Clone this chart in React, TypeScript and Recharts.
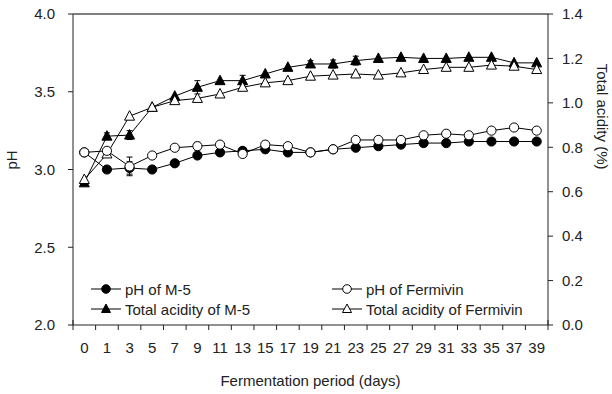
import React from 'react';
import { ComposedChart, Line, XAxis, YAxis, ErrorBar, ReferenceLine } from 'recharts';

const days = ['0', '1', '3', '5', '7', '9', '11', '13', '15', '17', '19', '21', '23', '25', '27', '29', '31', '33', '35', '37', '39'];

const phM5 = [3.11, 3.0, 3.01, 3.0, 3.04, 3.09, 3.11, 3.12, 3.13, 3.11, 3.11, 3.13, 3.14, 3.15, 3.16, 3.17, 3.17, 3.18, 3.18, 3.18, 3.18];
const phFermivin = [3.11, 3.12, 3.02, 3.09, 3.14, 3.15, 3.16, 3.1, 3.16, 3.15, 3.11, 3.13, 3.19, 3.19, 3.19, 3.22, 3.23, 3.22, 3.25, 3.27, 3.25];
const acidM5 = [0.64, 0.85, 0.855, 0.98, 1.03, 1.07, 1.1, 1.1, 1.13, 1.16, 1.175, 1.175, 1.19, 1.2, 1.205, 1.2, 1.2, 1.205, 1.205, 1.18, 1.18];
const acidFermivin = [0.655, 0.77, 0.94, 0.98, 1.01, 1.02, 1.04, 1.07, 1.09, 1.1, 1.12, 1.125, 1.13, 1.125, 1.135, 1.15, 1.16, 1.16, 1.17, 1.165, 1.15];

// error bar half-heights, 0 = none drawn
const phM5Err = [0, 0, 0.04, 0, 0, 0, 0, 0.015, 0, 0, 0, 0, 0, 0, 0, 0, 0, 0, 0, 0, 0];
const phFermivinErr = [0, 0, 0.06, 0, 0, 0.025, 0, 0, 0, 0, 0, 0, 0, 0, 0, 0, 0, 0, 0, 0, 0];
const acidM5Err = [0, 0.015, 0.02, 0, 0, 0.03, 0, 0.024, 0, 0, 0.015, 0.018, 0.02, 0, 0, 0, 0, 0, 0, 0, 0];
const acidFermivinErr = [0, 0, 0, 0, 0, 0, 0, 0, 0, 0, 0, 0, 0, 0, 0, 0, 0, 0, 0, 0, 0];

const phTicks = [2.0, 2.5, 3.0, 3.5, 4.0];
const acidTicks = [0, 0.2, 0.4, 0.6, 0.8, 1.0, 1.2, 1.4];

const data = days.map((d, i) => ({
  day: d,
  phM5: phM5[i],
  phFermivin: phFermivin[i],
  acidM5: acidM5[i],
  acidFermivin: acidFermivin[i],
  phM5Err: phM5Err[i],
  phFermivinErr: phFermivinErr[i],
  acidM5Err: acidM5Err[i],
  acidFermivinErr: acidFermivinErr[i],
}));

const FONT = '"Liberation Sans", Arial, sans-serif';
const FS = 15;
const INK = '#222';
const PLOT_LEFT = 73;
const PLOT_RIGHT = 548;
const BAND = (PLOT_RIGHT - PLOT_LEFT) / days.length;

const circleDot = (filled: boolean) => (props: any) => {
  const { cx, cy, index } = props;
  if (cx == null || cy == null) return <g key={index} />;
  return <circle key={index} cx={cx} cy={cy} r={4.6} fill={filled ? '#000' : '#fff'} stroke="#000" strokeWidth={1} />;
};

const triangleDot = (filled: boolean) => (props: any) => {
  const { cx, cy, index } = props;
  if (cx == null || cy == null) return <g key={index} />;
  const d = `M${cx},${cy - 5.5}L${cx + 5},${cy + 4}L${cx - 5},${cy + 4}Z`;
  return <path key={index} d={d} fill={filled ? '#000' : '#fff'} stroke="#000" strokeWidth={1} />;
};

const DayTick = (props: any) => {
  const { x, y, payload, index } = props;
  const last = index === days.length - 1;
  return (
    <g>
      <line x1={x - BAND / 2} x2={x - BAND / 2} y1={y} y2={y + 5} stroke={INK} />
      {last && <line x1={x + BAND / 2} x2={x + BAND / 2} y1={y - 5} y2={y + 5} stroke={INK} />}
      {index === 0 && <line x1={x - BAND / 2} x2={x - BAND / 2} y1={y - 5} y2={y} stroke={INK} />}
      <text x={x} y={y + 28} textAnchor="middle" fontSize={FS} fontFamily={FONT} fill={INK}>
        {payload.value}
      </text>
    </g>
  );
};

const legendItems = [
  { label: 'pH of M-5', x: 91, y: 289, mark: 'circle', filled: true },
  { label: 'pH of Fermivin', x: 332, y: 289, mark: 'circle', filled: false },
  { label: 'Total acidity of M-5', x: 91, y: 309, mark: 'tri', filled: true },
  { label: 'Total acidity of Fermivin', x: 332, y: 309, mark: 'tri', filled: false },
];

function LegendOverlay() {
  return (
    <svg width={612} height={394} style={{ position: 'absolute', left: 0, top: 0, pointerEvents: 'none' }}>
      {legendItems.map((it) => {
        const cx = it.x + 15;
        return (
          <g key={it.label}>
            <line x1={it.x} x2={it.x + 30} y1={it.y} y2={it.y} stroke="#000" />
            {it.mark === 'circle' ? (
              <circle cx={cx} cy={it.y} r={4.3} fill={it.filled ? '#000' : '#fff'} stroke="#000" />
            ) : (
              <path
                d={`M${cx},${it.y - 5}L${cx + 4.5},${it.y + 3.5}L${cx - 4.5},${it.y + 3.5}Z`}
                fill={it.filled ? '#000' : '#fff'}
                stroke="#000"
              />
            )}
            <text x={it.x + 34} y={it.y + 5.5} fontSize={FS} fontFamily={FONT} fill={INK}>
              {it.label}
            </text>
          </g>
        );
      })}
    </svg>
  );
}

export default function App() {
  return (
    <div style={{ position: 'absolute', left: 0, top: 0, width: 612, height: 394, background: '#fff' }}>
      <ComposedChart width={612} height={394} data={data} margin={{ top: 14, right: 0, bottom: 0, left: 0 }}>
        <XAxis
          dataKey="day"
          scale="band"
          height={69}
          tick={<DayTick />}
          tickLine={false}
          tickSize={0}
          tickMargin={0}
          axisLine={{ stroke: INK }}
          interval={0}
          label={{ value: 'Fermentation period (days)', position: 'insideBottom', offset: 8, fontSize: FS, fontFamily: FONT, fill: INK }}
        />
        <YAxis
          yAxisId="ph"
          orientation="left"
          width={73}
          domain={[2, 4]}
          ticks={phTicks}
          tickFormatter={(v: number) => v.toFixed(1)}
          tick={{ fontSize: FS, fontFamily: FONT, fill: INK }}
          tickLine={{ stroke: INK }}
          tickSize={5}
          tickMargin={13}
          axisLine={{ stroke: INK }}
          label={{ value: 'pH', angle: -90, position: 'insideLeft', offset: 12, fontSize: FS, fontFamily: FONT, fill: INK }}
        />
        <YAxis
          yAxisId="acid"
          orientation="right"
          width={64}
          domain={[0, 1.4]}
          ticks={acidTicks}
          tickFormatter={(v: number) => v.toFixed(1)}
          tick={{ fontSize: FS, fontFamily: FONT, fill: INK }}
          tickLine={{ stroke: INK }}
          tickSize={5}
          tickMargin={9}
          axisLine={{ stroke: INK }}
          label={{ value: 'Total acidity (%)', angle: 90, position: 'insideRight', offset: 10, fontSize: FS, fontFamily: FONT, fill: INK }}
        />
        <ReferenceLine yAxisId="ph" y={4} stroke="#555" strokeWidth={1.5} />
        <Line yAxisId="acid" dataKey="acidM5" stroke="#000" strokeWidth={1} dot={triangleDot(true)} isAnimationActive={false}>
          <ErrorBar dataKey="acidM5Err" width={3} stroke="#000" strokeWidth={1} />
        </Line>
        <Line yAxisId="acid" dataKey="acidFermivin" stroke="#000" strokeWidth={1} dot={triangleDot(false)} isAnimationActive={false}>
          <ErrorBar dataKey="acidFermivinErr" width={3} stroke="#000" strokeWidth={1} />
        </Line>
        <Line yAxisId="ph" dataKey="phM5" stroke="#000" strokeWidth={1} dot={circleDot(true)} isAnimationActive={false}>
          <ErrorBar dataKey="phM5Err" width={3} stroke="#000" strokeWidth={1} />
        </Line>
        <Line yAxisId="ph" dataKey="phFermivin" stroke="#000" strokeWidth={1} dot={circleDot(false)} isAnimationActive={false}>
          <ErrorBar dataKey="phFermivinErr" width={3} stroke="#000" strokeWidth={1} />
        </Line>
      </ComposedChart>
      <LegendOverlay />
    </div>
  );
}
